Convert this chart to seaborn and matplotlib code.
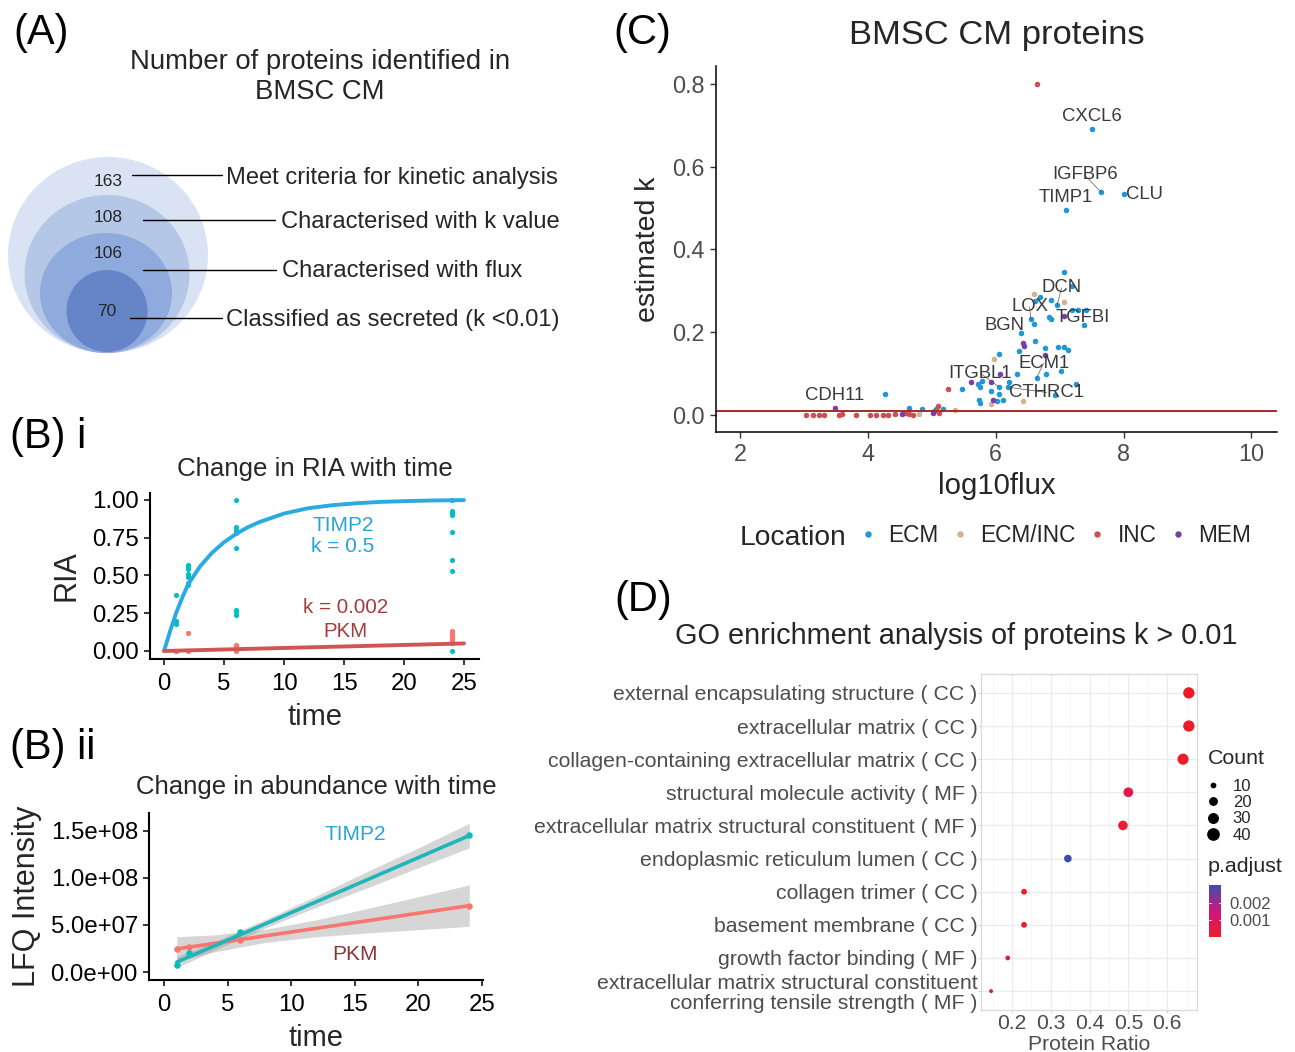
import numpy as np
import pandas as pd
import matplotlib
matplotlib.use("Agg")
import matplotlib.pyplot as plt
import seaborn as sns
from matplotlib.patches import Ellipse
from matplotlib.lines import Line2D
from matplotlib.colors import LinearSegmentedColormap, Normalize
from matplotlib.cm import ScalarMappable
from matplotlib.ticker import FuncFormatter, FixedLocator

# ---------------- data ----------------
# (A) nested protein counts
a_counts = [163, 108, 106, 70]
a_labels = ["Meet criteria for kinetic analysis", "Characterised with k value",
            "Characterised with flux", "Classified as secreted (k <0.01)"]

# (B i) RIA over time
ria_timp2_time = [1] * 4 + [2] * 7 + [6] * 9 + [24] * 9
ria_timp2_value = [0.37, 0.20, 0.18, 0.00,
                   0.57, 0.56, 0.54, 0.51, 0.49, 0.45, 0.44,
                   1.00, 0.82, 0.80, 0.79, 0.78, 0.68, 0.27, 0.26, 0.24,
                   1.00, 0.93, 0.92, 0.91, 0.90, 0.79, 0.60, 0.53, 0.00]
ria_pkm_time = [1] + [2] * 2 + [6] * 5 + [24] * 9
ria_pkm_value = [0.00, 0.12, 0.00, 0.04, 0.03, 0.02, 0.01, 0.00,
                 0.13, 0.12, 0.11, 0.10, 0.09, 0.08, 0.07, 0.06, 0.05]
fit_timp2_time = [0, 0.5, 1, 1.5, 2, 3, 4, 5, 6, 7, 8, 10, 12, 14, 16, 18, 20, 22, 25]
fit_timp2_ria = [0, 0.13, 0.25, 0.35, 0.44, 0.56, 0.65, 0.72, 0.775, 0.82, 0.855,
                 0.91, 0.945, 0.965, 0.978, 0.987, 0.992, 0.996, 0.999]
fit_pkm_time = [0, 25]
fit_pkm_ria = [0.0, 0.05]

# (B ii) LFQ intensity over time
lfq_time = [1, 2, 6, 24]
lfq_timp2 = [0.75e7, 2.0e7, 4.3e7, 1.454e8]
lfq_pkm = [2.45e7, 2.7e7, 3.4e7, 7.05e7]
band_time = [1, 4, 8, 12, 16, 20, 24]
fit_timp2_lfq = [1.05e7, 2.80e7, 5.14e7, 7.48e7, 9.82e7, 1.216e8, 1.45e8]
lo_timp2_lfq = [0.45e7, 2.35e7, 4.70e7, 6.90e7, 8.95e7, 1.11e8, 1.32e8]
hi_timp2_lfq = [1.65e7, 3.25e7, 5.60e7, 8.10e7, 1.07e8, 1.32e8, 1.58e8]
fit_pkm_lfq = [2.45e7, 3.05e7, 3.85e7, 4.65e7, 5.45e7, 6.25e7, 7.05e7]
lo_pkm_lfq = [1.15e7, 2.15e7, 3.15e7, 3.75e7, 4.15e7, 4.50e7, 4.85e7]
hi_pkm_lfq = [3.75e7, 3.95e7, 4.55e7, 5.55e7, 6.75e7, 8.00e7, 9.25e7]

# (C) BMSC CM proteins: log10 flux vs estimated k
ecm_flux = [7.5, 7.65, 8.0, 7.1, 7.07, 7.2, 6.96, 6.69, 6.86, 6.62, 7.2, 7.29, 7.42, 7.38,
            6.84, 6.87, 6.55, 6.6, 6.39, 6.61, 6.37, 6.77, 6.97, 7.07, 7.13, 6.05, 6.34,
            6.64, 6.78, 7.02, 7.26, 6.92, 5.76, 5.73, 5.79, 6.05, 6.21, 6.2, 5.93, 6.05,
            5.74, 5.75, 6.02, 6.11, 5.48, 4.27, 4.64, 4.85, 5.06, 5.18]
ecm_k = [0.69, 0.538, 0.533, 0.494, 0.345, 0.311, 0.265, 0.286, 0.277, 0.275, 0.253, 0.253,
         0.254, 0.217, 0.236, 0.231, 0.231, 0.221, 0.199, 0.18, 0.155, 0.163, 0.165, 0.164,
         0.158, 0.148, 0.10, 0.09, 0.10, 0.107, 0.075, 0.048, 0.068, 0.076, 0.081, 0.068,
         0.079, 0.067, 0.057, 0.05, 0.037, 0.03, 0.033, 0.036, 0.0625, 0.05, 0.017, 0.015,
         0.015, 0.014]
ecminc_flux = [6.6, 7.07, 5.98, 5.92, 6.43, 4.8, 5.36]
ecminc_k = [0.293, 0.273, 0.135, 0.026, 0.034, 0.002, 0.012]
inc_flux = [6.64, 5.26, 3.04, 3.14, 3.23, 3.31, 3.55, 3.6, 3.81, 4.03, 4.13, 4.23, 4.32,
            4.42, 4.58, 4.64, 4.71, 5.03, 5.09, 5.12]
inc_k = [0.80, 0.0625, 0.0, 0.0, 0.0, 0.0, 0.0, 0.002, 0.0, 0.0, 0.0, 0.0, 0.0, 0.003,
         0.005, 0.002, 0.0, 0.01, 0.021, 0.004]
mem_flux = [3.49, 4.54, 5.02, 5.61, 5.92, 6.07, 5.96, 6.42, 6.45, 6.77, 7.07]
mem_k = [0.018, 0.002, 0.004, 0.08, 0.08, 0.099, 0.037, 0.175, 0.167, 0.145, 0.239]
k_threshold = 0.01

gene_names = ["CXCL6", "IGFBP6", "TIMP1", "CLU", "DCN", "LOX", "TGFBI", "BGN",
              "ECM1", "ITGBL1", "CTHRC1", "CDH11"]
gene_flux = [7.5, 7.65, 7.1, 8.0, 6.96, 6.55, 7.07, 6.39, 6.64, 6.05, 6.2, 3.49]
gene_k = [0.69, 0.538, 0.494, 0.533, 0.265, 0.231, 0.239, 0.199, 0.09, 0.068, 0.067, 0.018]
gene_label_flux = [7.5, 7.39, 7.09, 8.33, 7.03, 6.53, 7.36, 6.13, 6.75, 5.76, 6.8, 3.48]
gene_label_k = [0.72, 0.58, 0.525, 0.533, 0.307, 0.261, 0.236, 0.216, 0.125, 0.101, 0.0545, 0.048]
gene_segment = [False, True, False, False, True, True, False, False, True, True, True, False]

# (D) GO enrichment
go_terms = ["external encapsulating structure ( CC )",
            "extracellular matrix ( CC )",
            "collagen-containing extracellular matrix ( CC )",
            "structural molecule activity ( MF )",
            "extracellular matrix structural constituent ( MF )",
            "endoplasmic reticulum lumen ( CC )",
            "collagen trimer ( CC )",
            "basement membrane ( CC )",
            "growth factor binding ( MF )",
            "extracellular matrix structural constituent\nconferring tensile strength ( MF )"]
go_ratio = [0.656, 0.656, 0.641, 0.500, 0.486, 0.344, 0.231, 0.231, 0.189, 0.146]
go_count = [40, 40, 39, 31, 30, 21, 14, 14, 11, 9]
go_padj = [0.00002, 0.00003, 0.00004, 0.0007, 0.0001, 0.00306, 0.0002, 0.0002, 0.0012, 0.0013]
count_legend = [10, 20, 30, 40]

# ---------------- figure ----------------
sns.set_theme(style="white")
plt.rcParams['font.family'] = ['Liberation Sans', 'DejaVu Sans']

W, H = 1295, 1052
fig = plt.figure(figsize=(W / 100, H / 100), dpi=100)


def box(l, t, r, b):
    return [l / W, 1 - b / H, (r - l) / W, (b - t) / H]


# overlay axes in pixel coordinates (panel A and panel letters)
ov = fig.add_axes([0, 0, 1, 1])
ov.set_xlim(0, W)
ov.set_ylim(H, 0)
ov.axis("off")

for txt, x, y in [("(A)", 41, 33), ("(B) i", 48, 437), ("(B) ii", 53, 748),
                  ("(C)", 642, 33), ("(D)", 643, 600)]:
    ov.text(x, y, txt, fontsize=30, ha="center", va="center", color="black")

# panel A
ov.text(320, 62, "Number of proteins identified in", fontsize=19.8, ha="center", va="center")
ov.text(320, 92, "BMSC CM", fontsize=19.8, ha="center", va="center")
ell_geom = [(108, 255, 200, 196), (107, 274, 165, 158), (106, 293, 132, 120), (107, 311, 81, 82)]
ell_cols = ["#DAE3F3", "#B4C7E7", "#8FAADC", "#6585C8"]
for (cx, cy, w, h), col in zip(ell_geom, ell_cols):
    ov.add_patch(Ellipse((cx, cy), w, h, facecolor=col, edgecolor="none"))
num_pos = [(108, 181), (108, 218), (108, 254), (107, 311)]
line_geom = [(132, 222, 175), (143, 275, 220), (143, 276, 270), (130, 222, 318)]
lab_pos = [(226, 178), (281, 222), (282, 271), (226, 320)]
for n, lab, (nx, ny), (x0, x1, ly), (tx, ty) in zip(a_counts, a_labels, num_pos, line_geom, lab_pos):
    ov.text(nx, ny, str(n), fontsize=12.5, ha="center", va="center")
    ov.plot([x0, x1], [ly, ly], color="black", lw=1.0)
    ov.text(tx, ty, lab, fontsize=17.1, ha="left", va="center")

teal = "#00BFC4"
salmon = "#F8766D"

# ---------- panel B i ----------
ax1 = fig.add_axes(box(150, 493, 479, 659))
sns.scatterplot(x=ria_timp2_time, y=ria_timp2_value, color=teal, s=14, linewidth=0, ax=ax1)
sns.scatterplot(x=ria_pkm_time, y=ria_pkm_value, color=salmon, s=14, linewidth=0, ax=ax1)
sns.lineplot(x=fit_timp2_time, y=fit_timp2_ria, color="#29ABE2", lw=2.8, ax=ax1)
sns.lineplot(x=fit_pkm_time, y=fit_pkm_ria, color="#D05555", lw=2.8, ax=ax1)
ax1.set_xlim(-1.17, 26.25)
ax1.set_ylim(-0.053, 1.046)
ax1.set_xticks([0, 5, 10, 15, 20, 25])
ax1.set_yticks([0, 0.25, 0.5, 0.75, 1.0])
ax1.yaxis.set_major_formatter(FuncFormatter(lambda v, p: f"{v:.2f}"))
ax1.text(14.9, 0.834, "TIMP2", color="#29A3DC", fontsize=15, ha="center", va="center")
ax1.text(14.9, 0.689, "k = 0.5", color="#29A3DC", fontsize=15, ha="center", va="center")
ax1.text(15.1, 0.285, "k = 0.002", color="#A83C3C", fontsize=14.8, ha="center", va="center")
ax1.text(15.1, 0.132, "PKM", color="#A83C3C", fontsize=14.8, ha="center", va="center")
ax1.set_title("Change in RIA with time", fontsize=18.6, pad=12)
ax1.set_xlabel("time", fontsize=21, labelpad=6)
ax1.set_ylabel("RIA", fontsize=22, labelpad=8)

# ---------- panel B ii ----------
ax2 = fig.add_axes(box(149, 813, 483, 980))
ax2.fill_between(band_time, lo_pkm_lfq, hi_pkm_lfq, color="#999999", alpha=0.4, lw=0)
ax2.fill_between(band_time, lo_timp2_lfq, hi_timp2_lfq, color="#999999", alpha=0.4, lw=0)
sns.scatterplot(x=lfq_time, y=lfq_pkm, color=salmon, s=22, linewidth=0, ax=ax2)
sns.scatterplot(x=lfq_time, y=lfq_timp2, color=teal, s=22, linewidth=0, ax=ax2)
sns.lineplot(x=band_time, y=fit_pkm_lfq, color=salmon, lw=2.6, ax=ax2)
sns.lineplot(x=band_time, y=fit_timp2_lfq, color="#1FB5BA", lw=2.6, ax=ax2)
ax2.set_xlim(-1.18, 25.08)
ax2.set_ylim(-8.5e6, 1.69e8)
ax2.set_xticks([0, 5, 10, 15, 20, 25])
ax2.set_yticks([0, 5e7, 1e8, 1.5e8])
ax2.yaxis.set_major_formatter(FuncFormatter(lambda v, p: f"{v:.1e}"))
ax2.text(15.0, 1.457e8, "TIMP2", color="#29A3DC", fontsize=15, ha="center", va="center")
ax2.text(15.0, 1.91e7, "PKM", color="#8C3535", fontsize=15, ha="center", va="center")
ax2.set_title("Change in abundance with time", fontsize=18.5, pad=14)
ax2.set_xlabel("time", fontsize=21, labelpad=6)
ax2.set_ylabel("LFQ Intensity", fontsize=22, labelpad=6)

for ax in (ax1, ax2):
    sns.despine(ax=ax)
    for sp in ("left", "bottom"):
        ax.spines[sp].set_color("black")
        ax.spines[sp].set_linewidth(1.5)
    ax.tick_params(direction="out", length=4, width=1.1, color="black",
                   labelsize=17.3, labelcolor="black", pad=4, left=True, bottom=True)
    ax.tick_params(axis="x", pad=6)

# ---------- panel C ----------
axc = fig.add_axes(box(716, 66, 1277, 432))
loc_cols = {"ECM": "#1F98D5", "ECM/INC": "#D2B48C", "INC": "#CD4F4F", "MEM": "#7A3FA8"}
sns.scatterplot(x=ecm_flux, y=ecm_k, color=loc_cols["ECM"], s=16, linewidth=0, ax=axc)
sns.scatterplot(x=ecminc_flux, y=ecminc_k, color=loc_cols["ECM/INC"], s=16, linewidth=0, ax=axc)
sns.scatterplot(x=inc_flux, y=inc_k, color=loc_cols["INC"], s=16, linewidth=0, ax=axc)
sns.scatterplot(x=mem_flux, y=mem_k, color=loc_cols["MEM"], s=16, linewidth=0, ax=axc)
axc.axhline(k_threshold, color="#A52A2A", lw=1.4)
for name, px, py, lx, ly, seg in zip(gene_names, gene_flux, gene_k, gene_label_flux,
                                      gene_label_k, gene_segment):
    if seg:
        axc.plot([px, lx], [py, ly], color="#555555", lw=0.5)
    axc.text(lx, ly, name, fontsize=13.3, color="#3a3a3a", ha="center", va="center")
axc.set_xlim(1.625, 10.4)
axc.set_ylim(-0.041, 0.843)
axc.set_xticks([2, 4, 6, 8, 10])
axc.set_yticks([0, 0.2, 0.4, 0.6, 0.8])
axc.yaxis.set_major_formatter(FuncFormatter(lambda v, p: f"{v:.1f}"))
sns.despine(ax=axc)
for sp in ("left", "bottom"):
    axc.spines[sp].set_color("black")
    axc.spines[sp].set_linewidth(1.1)
axc.tick_params(direction="out", length=4, width=1.0, color="#333333",
                labelsize=16.8, labelcolor="#4D4D4D", pad=4, left=True, bottom=True)
axc.set_title("BMSC CM proteins", fontsize=24.8, pad=16)
axc.set_xlabel("log10flux", fontsize=21.2, labelpad=4)
axc.set_ylabel("estimated k", fontsize=20.5, labelpad=8)

fig.text(740 / W, 1 - 538 / H, "Location", fontsize=20.3, ha="left", va="center")
loc_handles = [Line2D([], [], marker="o", ls="", ms=3.6, color=c, label=n)
               for n, c in loc_cols.items()]
fig.legend(handles=loc_handles, loc="center left", bbox_to_anchor=(861 / W, 1 - 535 / H),
           ncol=4, frameon=False, fontsize=16.3, handlelength=0.6, handletextpad=0.6,
           columnspacing=0.65, borderaxespad=0, borderpad=0)

# ---------- panel D ----------
axd = fig.add_axes(box(981, 674, 1197, 1010))
cmap = LinearSegmentedColormap.from_list("padj", ["#EE1C2A", "#D0157F", "#3E4FAA"])
norm = Normalize(vmin=min(go_padj), vmax=max(go_padj))
df_d = pd.DataFrame({"term": go_terms, "ratio": go_ratio, "count": go_count, "p": go_padj})
smin, smax, cmin, cmax = 8, 66, 9, 40
sns.scatterplot(data=df_d, x="ratio", y="term", hue="p", size="count", palette=cmap,
                hue_norm=norm, sizes=(smin, smax), size_norm=(cmin, cmax),
                linewidth=0, legend=False, ax=axd, zorder=3)
axd.set_xlim(0.12, 0.677)
axd.set_ylim(len(go_terms) - 0.43, -0.57)
axd.set_xticks([0.2, 0.3, 0.4, 0.5, 0.6])
axd.xaxis.set_minor_locator(FixedLocator([0.15, 0.25, 0.35, 0.45, 0.55, 0.65]))
axd.grid(True, which="major", color="#EBEBEB", lw=0.9)
axd.grid(True, which="minor", axis="x", color="#F3F3F3", lw=0.5)
axd.set_axisbelow(True)
for sp in axd.spines.values():
    sp.set_visible(True)
    sp.set_color("#D9D9D9")
    sp.set_linewidth(0.9)
axd.tick_params(axis="both", which="major", direction="out", length=2.0, width=0.6,
                color="#CCCCCC", labelsize=15.3, labelcolor="#4D4D4D", pad=0.5,
                left=True, bottom=True)
axd.tick_params(axis="x", labelsize=15.2, pad=0.8)
axd.tick_params(which="minor", length=0)
for lab in axd.get_yticklabels():
    lab.set_multialignment("right")
    lab.set_linespacing(1.05)
axd.set_xlabel("Protein Ratio", fontsize=15.2, color="#4D4D4D", labelpad=1.5)
axd.set_ylabel("")
fig.text(956 / W, 1 - 636 / H, "GO enrichment analysis of proteins k > 0.01",
         fontsize=20.8, ha="center", va="center")

# size legend
def count_to_s(c):
    return smin + (c - cmin) / (cmax - cmin) * (smax - smin)

fig.text(1208 / W, 1 - 758 / H, "Count", fontsize=15.4, ha="left", va="center")
size_handles = [Line2D([], [], marker="o", ls="", color="black",
                       ms=np.sqrt(count_to_s(c)), label=str(c)) for c in count_legend]
fig.legend(handles=size_handles, loc="upper left",
           bbox_to_anchor=(1206 / W, 1 - 779 / H), frameon=False, fontsize=12,
           labelspacing=0.07, handlelength=0.8, handletextpad=0.8,
           borderpad=0, borderaxespad=0)

fig.text(1208 / W, 1 - 866 / H, "p.adjust", fontsize=15.4, ha="left", va="center")
cax = fig.add_axes(box(1209, 885, 1221, 937))
cb = fig.colorbar(ScalarMappable(norm=norm, cmap=cmap), cax=cax)
cb.outline.set_visible(False)
cb.set_ticks([0.001, 0.002])
cb.set_ticklabels(["0.001", "0.002"])
cax.tick_params(length=0, labelsize=12, labelcolor="#4D4D4D", pad=6)
for v in [0.001, 0.002]:
    cax.axhline(v, color="white", lw=0.6, xmin=0, xmax=0.2)
    cax.axhline(v, color="white", lw=0.6, xmin=0.8, xmax=1)

fig.savefig("out.png", dpi=100)
